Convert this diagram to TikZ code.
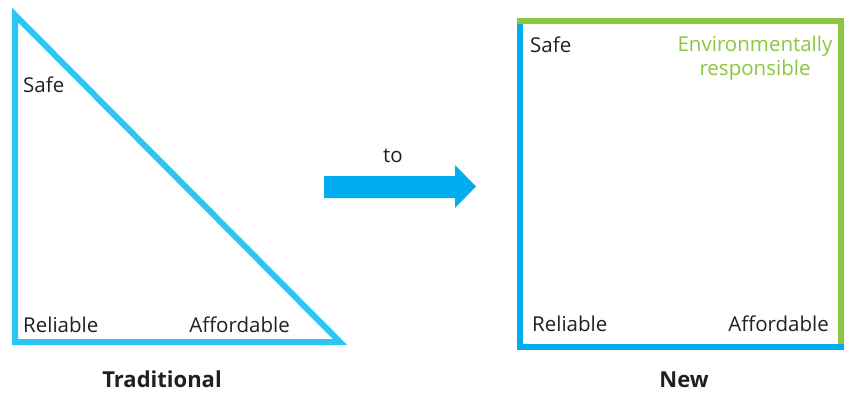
\documentclass[tikz,border=0pt]{standalone}
\usepackage{fontspec}
\setmainfont{Open Sans}
\usetikzlibrary{positioning}
\definecolor{skyblue}{HTML}{2CC5F4}
\definecolor{cyanblue}{HTML}{00AEEF}
\definecolor{leafgreen}{HTML}{8DC63F}
\definecolor{inkgray}{HTML}{231F20}

\begin{document}
\begin{tikzpicture}[
         x=1pt,y=-1pt,
         edge/.style={line width=6pt,line join=miter},
         lbl/.style={inner sep=0pt,text=inkgray,font=\fontsize{20.5}{24}\selectfont},
         title/.style={lbl,font=\fontsize{22}{24}\selectfont\bfseries}]
      %
         \useasboundingbox (0,0) rectangle (852,392);
      % old triangle
         \draw[edge,skyblue] (15,15) -- (15,342) -- (340,342) -- cycle;
         \node (safeL) at (23,92) [lbl,anchor=base west]{Safe};
         \node (reliL) at (23,332) [lbl,anchor=base west]{Reliable};
         \node (affoL) at (290,332) [lbl,anchor=base east]{Affordable};
         \node (trad) at (162,387) [title,anchor=base]{Traditional};
      %
      % the arrow in between
         \fill[cyanblue] (324,176) -- (455,176) -- (455,165) -- (476,186.5)
            -- (455,208) -- (455,198) -- (324,198) -- cycle;
         \node (to) at (393,162) [lbl,anchor=base]{to};
      %
      % new square, green on top/right, blue on left/bottom
         \draw[edge,leafgreen] (517,21) -- (841,21) -- (841,344);
         \draw[edge,cyanblue] (520,24) -- (520,347) -- (844,347);
         \node (safeR) at (530,52) [lbl,anchor=base west]{Safe};
         % base of a two-line node is the last line
         \node (envi) at (755,75) [lbl,anchor=base,align=center,text=leafgreen]{Environmentally\\responsible};
         \node (reliR) at (532,331) [lbl,anchor=base west]{Reliable};
         \node (affoR) at (829,331) [lbl,anchor=base east]{Affordable};
         \node (new) at (684,387) [title,anchor=base]{New};
   \end{tikzpicture}
\end{document}
